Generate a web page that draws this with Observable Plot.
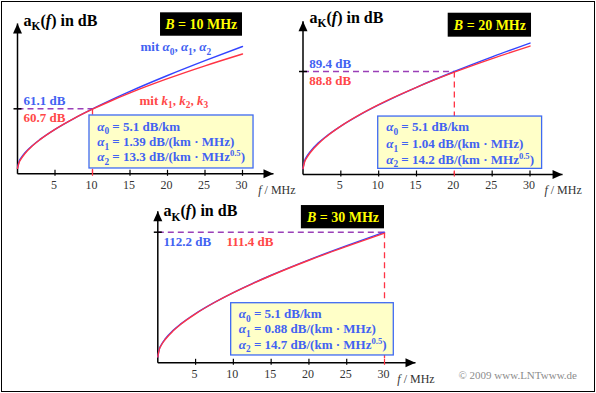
<!DOCTYPE html>
<html>
<head>
<meta charset="utf-8">
<script src="https://cdn.jsdelivr.net/npm/d3@7"></script>
<script src="https://cdn.jsdelivr.net/npm/@observablehq/plot@0.6"></script>
<style>
  body { margin: 0; background: #fff; }
  #wrap { position: relative; width: 596px; height: 393px; background: #fff; overflow: hidden; }
  .panel { position: absolute; }
  #frame { position: absolute; left: 1px; top: 1px; width: 594px; height: 391px; box-sizing: border-box; border: 1.5px solid #000; pointer-events: none; }
  #copy { position: absolute; right: 19px; top: 369px; font: 11px "Liberation Serif", "Times New Roman", serif; color: #8c8c8c; line-height: 12px; }
</style>
</head>
<body>
<div id="wrap">
  <div class="panel" id="p1" style="left:0;top:0"></div>
  <div class="panel" id="p2" style="left:296px;top:0"></div>
  <div class="panel" id="p3" style="left:140px;top:190px"></div>
  <div id="copy">© 2009 www.LNTwww.de</div>
  <div id="frame"></div>
</div>
<script>
// ---------- data ----------
const freqs   = [0, 0.2, 0.5, 1, 2, 3, 5, 7.5, 10, 12.5, 15, 20, 25, 30];            // f in MHz
const blue10  = [5.1, 11.33, 15.20, 19.79, 26.69, 32.31, 41.79, 51.95, 61.06, 69.50, 77.46, 92.38, 106.35, 119.65];
const red10   = [5.1, 10.42, 14.31, 19.07, 26.27, 32.10, 41.78, 51.88, 60.70, 68.66, 76.01, 89.37, 101.45, 112.58];
const blue20  = [5.1, 11.66, 15.66, 20.34, 27.26, 32.82, 42.05, 51.79, 60.40, 68.30, 75.70, 89.40, 102.10, 114.08];
const red20   = [5.1, 10.60, 14.56, 19.35, 26.56, 32.38, 41.99, 51.98, 60.67, 68.50, 75.72, 88.80, 100.60, 111.47];
const blue30  = [5.1, 11.85, 15.93, 20.68, 27.65, 33.20, 42.37, 51.96, 60.39, 68.07, 75.23, 88.44, 100.60, 112.20];
const red30   = [5.1, 11.50, 15.50, 20.20, 27.30, 32.90, 42.10, 51.80, 60.30, 67.90, 75.00, 88.10, 100.00, 111.40];

const bandwidths = [10, 20, 30];            // B in MHz
const blueAtB    = ["61.1", "89.4", "112.2"]; // dB
const redAtB     = ["60.7", "88.8", "111.4"]; // dB
const alpha0     = ["5.1", "5.1", "5.1"];
const alpha1     = ["1.39", "1.04", "0.88"];
const alpha2     = ["13.3", "14.2", "14.7"];
const xTicks     = [5, 10, 15, 20, 25, 30];

// ---------- styles ----------
const SERIF = '"Liberation Serif", "Times New Roman", serif';
const BLUE_LINE = "#3344ff", RED_LINE = "#ff3344";
const BLUE_TXT = "#4262f2", RED_TXT = "#ff4848";
const DASH_H = "#9a3fb8";

// ---------- layout per panel (pixel ranges and annotation anchors in data units) ----------
const layouts = [
  { el: "p1", w: 296, h: 200, xr: [17, 242],  y0: 173.3, k: 1.064, tipF: 34.13, tipV: 141.3,
    title: [0.8, 144.1], bbox: [19.07, 30.0, 129.3, 151.3], bText: [24.5, 140.3],
    info: [9.6, 31.47, 5.0, 54.8], infoX: 10.63, infoY: [44.5, 29.7, 15.6],
    lblBlue: [0.8, 68.9], lblRed: [0.8, 52.9], fLbl: [32.1, -15.7],
    mitBlue: [16.4, 119.0], mitRed: [16.27, 68.9] },
  { el: "p2", w: 300, h: 200, xr: [6.5, 233.5], y0: 174, k: 1.152, tipF: 34.3, tipV: 133.1,
    title: [0.86, 136.3], bbox: [19.19, 30.2, 119.2, 140.0], bText: [24.7, 129.6],
    info: [9.94, 31.6, 4.9, 50.3], infoX: 11.0, infoY: [41.1, 26.6, 13.0],
    lblBlue: [0.82, 96.4], lblRed: [0.82, 81.6], fLbl: [31.9, -13.9] },
  { el: "p3", w: 320, h: 200, xr: [17.3, 244], y0: 172.3, k: 1.164, tipF: 34.1, tipV: 130.2,
    title: [0.75, 130.2], bbox: [19.0, 30.0, 115.1, 135.1], bText: [24.5, 125.1],
    info: [9.71, 31.23, 6.3, 51.2], infoX: 10.72, infoY: [42.1, 29.2, 15.7],
    lblBlue: [0.75, 103.5], lblRed: [9.09, 103.5], fLbl: [31.7, -13.7] }
];
const blues = [blue10, blue20, blue30];
const reds  = [red10, red20, red30];

// custom symbols
const arrowUp    = { draw(c) { c.moveTo(0, 0); c.lineTo(4.5, 10); c.lineTo(-4.5, 10); c.closePath(); } };
const arrowRight = { draw(c) { c.moveTo(0, 0); c.lineTo(-10, 4.5); c.lineTo(-10, -4.5); c.closePath(); } };
const tickV      = { draw(c) { c.moveTo(0, -4); c.lineTo(0, 2); } };
const tickH      = { draw(c) { c.moveTo(-4, 0); c.lineTo(4, 0); } };

function makePanel(i) {
  const L = layouts[i];
  const B = bandwidths[i];
  const vB = +blueAtB[i];
  const pts = freqs.map((f, j) => ({ f, blue: blues[i][j], red: reds[i][j] }));
  const infoLines = [
    `*{α}_{0} = ${alpha0[i]} dB/km`,
    `*{α}_{1} = ${alpha1[i]} dB/(km · MHz)`,
    `*{α}_{2} = ${alpha2[i]} dB/(km · MHz^{0.5})`
  ];
  const txt = (s, pos, o) => Plot.text([s], { x: () => pos[0], y: () => pos[1], text: d => d, ...o });
  const marks = [
    // dashed guides
    Plot.link([{ x1: 0, y1: vB, x2: B, y2: vB }], { x1: "x1", y1: "y1", x2: "x2", y2: "y2", stroke: DASH_H, strokeWidth: 1.5, strokeDasharray: "6,4" }),
    Plot.link([{ x1: B, y1: vB, x2: B, y2: 0 }], { x1: "x1", y1: "y1", x2: "x2", y2: "y2", stroke: "#ff3344", strokeWidth: 1.3, strokeDasharray: "6,4" }),
    // info box
    Plot.rect([L.info], { x1: d => d[0], x2: d => d[1], y1: d => d[2], y2: d => d[3], fill: "#ffffc8", stroke: "#3f6af2", strokeWidth: 1.3 }),
    ...infoLines.map((s, j) => txt(s, [L.infoX, L.infoY[j]], { textAnchor: "start", fontSize: 13, fontWeight: "bold", fill: BLUE_TXT })),
    // bandwidth box
    Plot.rect([L.bbox], { x1: d => d[0], x2: d => d[1], y1: d => d[2], y2: d => d[3], fill: "black" }),
    txt(`*{B} = ${B} MHz`, L.bText, { fontSize: 14, fontWeight: "bold", fill: "#ffff00" }),
    // axes
    Plot.link([{ x1: 0, y1: 0, x2: L.tipF, y2: 0 }, { x1: 0, y1: 0, x2: 0, y2: L.tipV }], { x1: "x1", y1: "y1", x2: "x2", y2: "y2", stroke: "black", strokeWidth: 1.5 }),
    Plot.dot([[0, L.tipV]], { x: d => d[0], y: d => d[1], symbol: arrowUp, fill: "black", stroke: "none" }),
    Plot.dot([[L.tipF, 0]], { x: d => d[0], y: d => d[1], symbol: arrowRight, fill: "black", stroke: "none" }),
    Plot.dot(xTicks, { x: d => d, y: () => 0, symbol: tickV, fill: "none", stroke: d => (d === B ? "#ff3344" : "black"), strokeWidth: 1.2 }),
    Plot.dot([vB], { x: () => 0, y: d => d, symbol: tickH, fill: "none", stroke: "black", strokeWidth: 1.5 }),
    Plot.text(xTicks, { x: d => d, y: () => 0, dy: 11, dx: -1, text: d => String(d), fontSize: 12, fill: "#333" }),
    txt("*{f} / MHz", L.fLbl, { textAnchor: "start", fontSize: 12, fill: "#333" }),
    // title
    txt("a_{K}(*{f}) in dB", L.title, { textAnchor: "start", fontSize: 16, fontWeight: "bold", fill: "black" }),
    // value labels
    txt(`${blueAtB[i]} dB`, L.lblBlue, { textAnchor: "start", fontSize: 13, fontWeight: "bold", fill: BLUE_TXT }),
    txt(`${redAtB[i]} dB`, L.lblRed, { textAnchor: "start", fontSize: 13, fontWeight: "bold", fill: RED_TXT }),
    // curves
    Plot.line(pts, { x: "f", y: "blue", stroke: BLUE_LINE, strokeWidth: 1.4, curve: "monotone-x" }),
    Plot.line(pts, { x: "f", y: "red", stroke: RED_LINE, strokeWidth: 1.4, curve: "monotone-x" })
  ];
  if (L.mitBlue) {
    marks.push(txt("mit *{α}_{0}, *{α}_{1}, *{α}_{2}", L.mitBlue, { textAnchor: "start", fontSize: 13, fontWeight: "bold", fill: BLUE_TXT }));
    marks.push(txt("mit *{k}_{1}, *{k}_{2}, *{k}_{3}", L.mitRed, { textAnchor: "start", fontSize: 13, fontWeight: "bold", fill: RED_TXT }));
  }
  return Plot.plot({
    width: L.w, height: L.h, margin: 0,
    x: { domain: [0, 30], range: L.xr, axis: null },
    y: { domain: [0, 100], range: [L.y0, L.y0 - 100 * L.k], axis: null },
    style: { background: "transparent", overflow: "visible", fontFamily: SERIF, maxWidth: "none" },
    marks
  });
}

// turn simple markup (_{sub}, ^{sup}, *{italic}) into tspans
function richify(svg) {
  svg.querySelectorAll("text").forEach(t => {
    const s = t.textContent;
    if (!/[_^*]\{/.test(s)) return;
    const fs = parseFloat(getComputedStyle(t).fontSize) || 12;
    t.textContent = "";
    const parts = s.split(/([_^*]\{[^}]*\})/).filter(p => p.length);
    let shift = 0;
    for (const p of parts) {
      const ts = document.createElementNS("http://www.w3.org/2000/svg", "tspan");
      let target = 0, content = p;
      if (p.startsWith("_{")) { target = 0.28 * fs; ts.setAttribute("font-size", (0.72 * fs) + "px"); content = p.slice(2, -1); }
      else if (p.startsWith("^{")) { target = -0.38 * fs; ts.setAttribute("font-size", (0.66 * fs) + "px"); content = p.slice(2, -1); }
      else if (p.startsWith("*{")) { ts.setAttribute("font-style", "italic"); content = p.slice(2, -1); }
      if (target !== shift) { ts.setAttribute("dy", target - shift); shift = target; }
      ts.textContent = content;
      t.appendChild(ts);
    }
  });
}

layouts.forEach((L, i) => {
  const svg = makePanel(i);
  document.getElementById(L.el).appendChild(svg);
  richify(svg);
});
</script>
</body>
</html>
